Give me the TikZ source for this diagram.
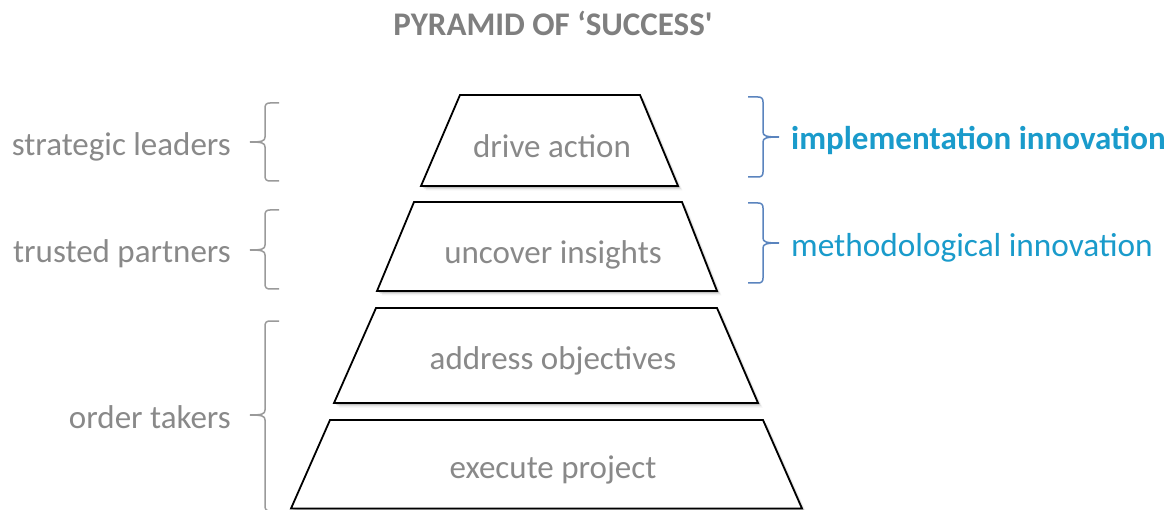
\documentclass[tikz,border=0pt]{standalone}
\usepackage{fontspec}
\setmainfont{Carlito}
% plain family without TeX ligatures, so ' stays a straight quote
\newfontfamily\carlito{Carlito}
\usetikzlibrary{calc}

\definecolor{labelgray}{HTML}{898989}
\definecolor{titlegray}{HTML}{7F7F7F}
\definecolor{bracegray}{HTML}{9A9A9A}
\definecolor{braceblue}{HTML}{5A84BE}
\definecolor{innoblue}{HTML}{1A9BCB}

\tikzset{
  tier/.style={draw=black, line width=1.8pt, fill=white, line join=miter,
    preaction={fill=black, opacity=.05, transform canvas={shift={(4.5pt,-4.5pt)}}},
    preaction={fill=black, opacity=.08, transform canvas={shift={(3pt,-3pt)}}},
    preaction={fill=black, opacity=.12, transform canvas={shift={(1.8pt,-1.8pt)}}}},
  tiertext/.style={text=labelgray, font=\carlito\fontsize{33}{40}\selectfont, inner sep=0pt, anchor=base},
  sidetext/.style={text=labelgray, font=\carlito\fontsize{33}{40}\selectfont, inner sep=0pt, anchor=base east},
  innotext/.style={text=innoblue, font=\carlito\fontsize{33.3}{40}\selectfont, inner sep=0pt, anchor=base west},
  lbr/.style={draw=bracegray, line width=1.5pt},
  rbr/.style={draw=braceblue, line width=1.5pt},
}

% left-opening brace: top, bottom, tip height
\newcommand\leftbrace[3]{%
  \draw[lbr] (279,#1) -- (270,#1) .. controls (266.5,#1) and (265,{#1+1.5}) .. (265,{#1+5})
    -- (265,{#3-5}) .. controls (265,{#3-1}) and (262,#3) .. (250,#3)
    .. controls (262,#3) and (265,{#3+1}) .. (265,{#3+5})
    -- (265,{#2-5}) .. controls (265,{#2-1.5}) and (266.5,#2) .. (270,#2) -- (279,#2);}
% right-opening brace: top, bottom, tip height
\newcommand\rightbrace[3]{%
  \draw[rbr] (748,#1) -- (758,#1) .. controls (761.5,#1) and (763,{#1+1.5}) .. (763,{#1+5})
    -- (763,{#3-5}) .. controls (763,{#3-1}) and (766,#3) .. (779,#3)
    .. controls (766,#3) and (763,{#3+1}) .. (763,{#3+5})
    -- (763,{#2-5}) .. controls (763,{#2-1.5}) and (761.5,#2) .. (758,#2) -- (748,#2);}

\begin{document}
\begin{tikzpicture}[x=1pt, y=-1pt]
  \path[use as bounding box, fill=white] (0,0) rectangle (1174,510);

  % title
  \node[text=titlegray, font=\carlito\bfseries\fontsize{33}{39}\selectfont, inner sep=0pt, anchor=base]
    (title) at (553,36) {PYRAMID OF ‘SUCCESS'};

  % pyramid tiers
  \draw[tier] (460,95)  -- (640,95)  -- (678,186) -- (421,186) -- cycle;
  \draw[tier] (414,202) -- (682,202) -- (717,291) -- (377,291) -- cycle;
  \draw[tier] (376,308) -- (717,308) -- (758,403) -- (334,403) -- cycle;
  \draw[tier] (330,420) -- (763,420) -- (802,508.5) -- (291,508.5) -- cycle;

  \node[tiertext] (drive)   at (552,158) {drive action};
  \node[tiertext] (uncover) at (553,264) {uncover insights};
  \node[tiertext] (address) at (553,369) {address objectives};
  \node[tiertext] (execute) at (553,478) {execute project};

  % roles on the left
  \leftbrace{103}{181}{142}
  \leftbrace{210}{289}{250}
  \leftbrace{321}{511}{415}
  \node[sidetext] (leaders)  at (231,156) {strategic leaders};
  \node[sidetext] (partners) at (231,263) {trusted partners};
  \node[sidetext] (takers)   at (231,428) {order takers};

  % kinds of innovation on the right
  \rightbrace{97}{177}{137}
  \rightbrace{203}{283}{243}
  \node[innotext, font=\carlito\bfseries\fontsize{33}{40}\selectfont] (impl) at (791,150) {implementation innovation};
  \node[innotext] (method) at (791,257) {methodological innovation};
\end{tikzpicture}
\end{document}
